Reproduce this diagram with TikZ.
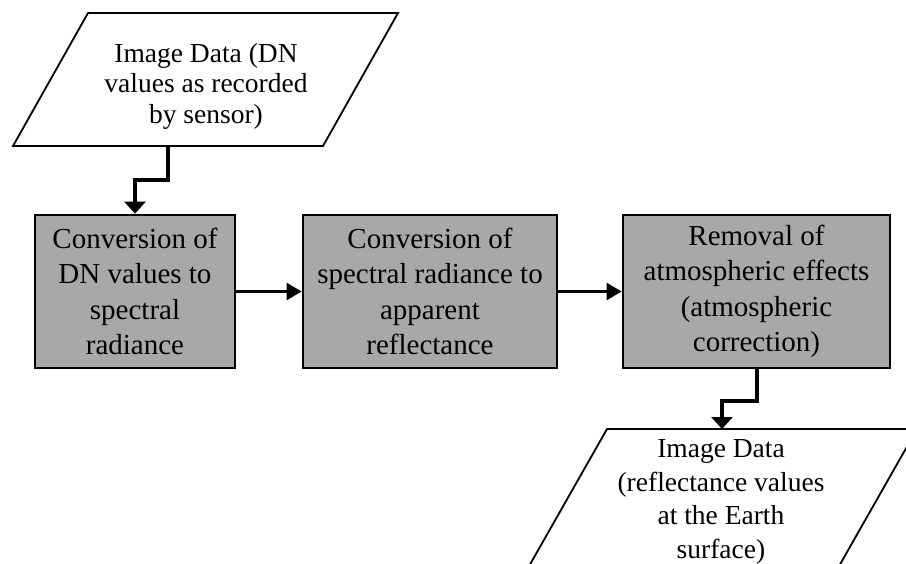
\documentclass[tikz,border=0pt]{standalone}
\usepackage{fontspec}
\setmainfont{Liberation Serif}
\usetikzlibrary{arrows.meta}
\definecolor{boxgray}{RGB}{168,168,168}

\begin{document}
\begin{tikzpicture}[x=0.5pt, y=-0.5pt,
    procbox/.style={draw, line width=1.4pt, fill=boxgray, align=center, inner sep=0pt,
        minimum height=76.5pt, font=\fontsize{14.5}{17.75}\selectfont},
    datatext/.style={align=center, inner sep=0pt, font=\fontsize{13.75}{15.25}\selectfont},
    dataedge/.style={line width=0.9pt, line join=miter},
    flow/.style={line width=1.3pt, -{Triangle[length=7.5pt,width=8.5pt]}},
    elbow/.style={line width=2pt, line join=miter, -{Triangle[length=6pt,width=10.5pt]}}]
    \useasboundingbox (0,0) rectangle (906,563);

    % Input image data
    \draw[dataedge] (88,13) -- (398,13) -- (323,146) -- (13,146) -- cycle;
    \node[datatext] (rawdata) at (206,86) {Image Data (DN\\ values as recorded\\ by sensor)};
    \coordinate (rawout) at (168,146);

    % Processing steps
    \node[procbox, minimum width=100pt] (radiance) at (135,291.5) {Conversion of\\ DN values to\\ spectral\\ radiance};
    \node[procbox, minimum width=127pt] (reflect) at (430,291.5) {Conversion of\\ spectral radiance to\\ apparent\\ reflectance};
    \node[procbox, minimum width=133.5pt] (atmos) at (756.5,291.5) {Removal of\\ atmospheric effects\\ (atmospheric\\ correction)};

    % Output image data
    \begin{scope}
        \clip (0,0) rectangle (906,563);
        \draw[dataedge] (607,429) -- (917,429) -- (834,575) -- (524,575) -- cycle;
    \end{scope}
    \node[datatext, font=\fontsize{13.75}{16.85}\selectfont] (refdata) at (721,502) {Image Data\\ (reflectance values\\ at the Earth\\ surface)};
    \coordinate (refin) at (722,429);

    % Connectors
    \draw[elbow] (rawout) -- ++(0,34) -| (radiance.north);
    \draw[flow] (radiance.east) -- (reflect.west);
    \draw[flow] (reflect.east) -- (atmos.west);
    \draw[elbow] (atmos.south) -- ++(0,32) -| (refin);
\end{tikzpicture}
\end{document}
